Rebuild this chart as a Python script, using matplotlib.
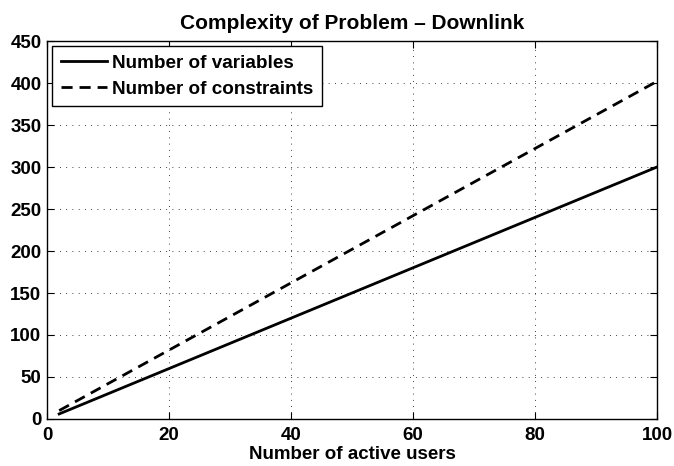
import matplotlib
matplotlib.use("Agg")
import matplotlib.pyplot as plt

# number of active users
users = [2, 4, 6, 8, 10, 12, 14, 16, 18, 20, 22, 24, 26, 28, 30, 32, 34, 36, 38, 40,
         42, 44, 46, 48, 50, 52, 54, 56, 58, 60, 62, 64, 66, 68, 70, 72, 74, 76, 78, 80,
         82, 84, 86, 88, 90, 92, 94, 96, 98, 100]
n_variables = [6, 12, 18, 24, 30, 36, 42, 48, 54, 60, 66, 72, 78, 84, 90, 96, 102, 108, 114, 120,
               126, 132, 138, 144, 150, 156, 162, 168, 174, 180, 186, 192, 198, 204, 210, 216, 222, 228, 234, 240,
               246, 252, 258, 264, 270, 276, 282, 288, 294, 300]
n_constraints = [10, 18, 26, 34, 42, 50, 58, 66, 74, 82, 90, 98, 106, 114, 122, 130, 138, 146, 154, 162,
                 170, 178, 186, 194, 202, 210, 218, 226, 234, 242, 250, 258, 266, 274, 282, 290, 298, 306, 314, 322,
                 330, 338, 346, 354, 362, 370, 378, 386, 394, 402]

plt.rcParams['font.family'] = ['Liberation Sans', 'DejaVu Sans']
plt.rcParams['font.weight'] = 'bold'

fig = plt.figure(figsize=(6.74, 4.66), dpi=100)
ax = fig.add_axes([0.0697, 0.1009, 0.905, 0.811])

ax.plot(users, n_variables, 'k-', lw=2.0, label='Number of variables')
ax.plot(users, n_constraints, 'k--', lw=2.0, dashes=(4, 2.5), label='Number of constraints')

ax.set_xlim(0, 100)
ax.set_ylim(0, 450)
ax.set_xticks(range(0, 101, 20))
ax.set_yticks(range(0, 451, 50))
ax.tick_params(direction='in', length=5, width=0.8, labelsize=13.5, top=True, right=True, pad=4)
ax.tick_params(axis='x', pad=6)
for lbl in ax.get_xticklabels() + ax.get_yticklabels():
    lbl.set_fontweight('bold')
ax.grid(True, linestyle=(0, (1, 6.5)), color='k', lw=0.6)
for s in ax.spines.values():
    s.set_linewidth(1.0)

ax.set_xlabel('Number of active users', fontsize=13.5, fontweight='bold', labelpad=1)
ax.set_title('Complexity of Problem – Downlink', fontsize=15, fontweight='bold', pad=9)

leg = ax.legend(loc='upper left', fontsize=13.6, fancybox=False, framealpha=1,
                edgecolor='k', borderaxespad=0.27, handlelength=2.45,
                handletextpad=0.27, borderpad=0.45, labelspacing=0.45)
leg.get_frame().set_linewidth(1.0)
for t in leg.get_texts():
    t.set_fontweight('bold')

fig.savefig('out.png', dpi=100)
